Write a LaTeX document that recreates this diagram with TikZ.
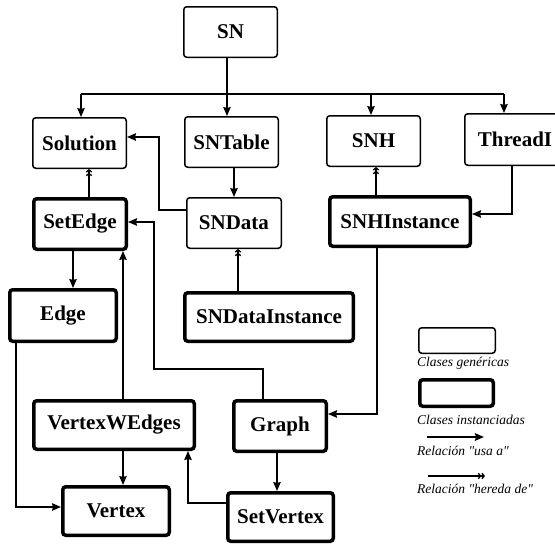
\documentclass[tikz,border=0pt]{standalone}
\usepackage{fontspec}
\setmainfont{Liberation Serif}[Ligatures=TeXOff]
\usetikzlibrary{arrows.meta}
\tikzset{
  base/.style={draw, rounded corners=3pt, inner sep=0pt, align=center,
    font=\fontsize{21}{24}\selectfont\bfseries},
  gen/.style={base, line width=1.5pt},
  inst/.style={base, line width=3.5pt},
  conn/.style={line width=1.5pt},
  usa/.style={conn, -{Stealth[length=9pt,width=7.5pt,inset=1pt]}},
  hereda/.style={conn, -{Straight Barb[length=2.2pt,width=5.5pt,line width=1.3pt] Straight Barb[length=2.2pt,width=5.5pt,line width=1.3pt]}},
  legtext/.style={anchor=west, inner sep=0pt, font=\fontsize{13.5}{15}\selectfont\itshape}
}
\begin{document}
\begin{tikzpicture}[x=1pt, y=-1pt]
\useasboundingbox (0,0) rectangle (555,546);
\clip (0,0) rectangle (555,546);
\fill[white] (0,0) rectangle (555,546);

% generic classes
\node[gen, minimum width=93.5pt, minimum height=50.5pt] (SN) at (230.5,32) {SN};
\node[gen, minimum width=93.5pt, minimum height=50.5pt] (Solution) at (79.5,143) {Solution};
\node[gen, minimum width=93.5pt, minimum height=50.5pt] (SNTable) at (231.5,142) {SNTable};
\node[gen, minimum width=93.5pt, minimum height=50.5pt] (SNH) at (373.5,141) {SNH};
\node[gen, minimum width=100.5pt, minimum height=51.5pt] (ThreadI) at (515,139.5) {ThreadI};
\node[gen, minimum width=94.5pt, minimum height=50.5pt] (SNData) at (234,223) {SNData};

% instantiated classes
\node[inst, minimum width=92.5pt, minimum height=50.5pt] (SetEdge) at (80,224) {SetEdge};
\node[inst, minimum width=140.5pt, minimum height=49.5pt] (SNHInstance) at (400,221.5) {SNHInstance};
\node[inst, minimum width=106.5pt, minimum height=51.5pt] (Edge) at (63,315.5) {Edge};
\node[inst, minimum width=168.5pt, minimum height=48.5pt] (SNDataInstance) at (269,317) {SNDataInstance};
\node[inst, minimum width=160.5pt, minimum height=48.5pt] (VertexWEdges) at (114,425) {VertexWEdges};
\node[inst, minimum width=92.5pt, minimum height=50.5pt] (Graph) at (280,426) {Graph};
\node[inst, minimum width=106.5pt, minimum height=48.5pt] (Vertex) at (116,511) {Vertex};
\node[inst, minimum width=105.5pt, minimum height=48.5pt] (SetVertex) at (280.5,517) {SetVertex};

% legend
\node[gen, minimum width=76.5pt, minimum height=25.5pt] (leg1) at (457,340.5) {};
\node[legtext] (leg1t) at (417,363) {Clases genéricas};
\node[inst, minimum width=73.5pt, minimum height=26.5pt] (leg2) at (456.5,393) {};
\node[legtext] (leg2t) at (417,420) {Clases instanciadas};
\coordinate (la1) at (427,437);
\coordinate (la2) at (484,437);
\draw[usa, line width=2pt] (la1) -- (la2);
\node[legtext] (leg3t) at (417,451) {Relación "usa a"};
\coordinate (lh1) at (428,476);
\coordinate (lh2) at (485,476);
\draw[hereda, line width=2pt] (lh1) -- (lh2);
\node[legtext] (leg4t) at (417,489) {Relación "hereda de"};

% bus from SN
\coordinate (b1) at (81,94);
\coordinate (bus) at (227,94);
\coordinate (b3) at (371,94);
\coordinate (b4) at (504,94);
\draw[conn] (SN.south -| bus) -- (bus);
\draw[conn] (b1) -- (b4);
\draw[usa] (b1) -- (b1 |- Solution.north);
\draw[usa] (bus) -- (bus |- SNTable.north);
\draw[usa] (b3) -- (b3 |- SNH.north);
\draw[usa] (b4) -- (b4 |- ThreadI.north);

% SNTable -> SNData
\draw[usa] (SNTable.south -| SNData.north) -- (SNData.north);

% SNData -> Solution
\coordinate (k1) at (159,210);
\coordinate (k2) at (159,137);
\draw[usa] (SNData.west |- k1) -- (k1) -- (k2) -- (Solution.east |- k2);

% SetEdge inherits Solution
\coordinate (h1) at (89,0);
\draw[hereda] (SetEdge.north -| h1) -- (Solution.south -| h1);

% SetEdge -> Edge
\coordinate (e1) at (73,0);
\draw[usa] (SetEdge.south -| e1) -- (Edge.north -| e1);

% Edge -> Vertex
\coordinate (e2) at (16,507);
\draw[usa] (Edge.south -| e2) -- (e2) -- (Vertex.west |- e2);

% VertexWEdges -> SetEdge, Vertex
\coordinate (v1) at (123,0);
\draw[usa] (VertexWEdges.north -| v1) -- (SetEdge.south -| v1);
\draw[usa] (VertexWEdges.south -| v1) -- (Vertex.north -| v1);

% Graph -> SetEdge
\coordinate (g1) at (263,369);
\coordinate (g2) at (154,369);
\coordinate (g3) at (154,222);
\draw[usa] (Graph.north -| g1) -- (g1) -- (g2) -- (g3) -- (SetEdge.east |- g3);

% SNDataInstance inherits SNData
\coordinate (d1) at (238,0);
\draw[hereda] (SNDataInstance.north -| d1) -- (SNData.south -| d1);

% SNHInstance inherits SNH
\coordinate (s1) at (376,0);
\draw[hereda] (SNHInstance.north -| s1) -- (SNH.south -| s1);

% ThreadI -> SNHInstance
\coordinate (t1) at (512,214);
\draw[usa] (ThreadI.south -| t1) -- (t1) -- (SNHInstance.east |- t1);

% SNHInstance -> Graph
\coordinate (t2) at (377,414);
\draw[usa] (SNHInstance.south -| t2) -- (t2) -- (Graph.east |- t2);

% Graph -> SetVertex
\coordinate (g4) at (277,0);
\draw[usa] (Graph.south -| g4) -- (SetVertex.north -| g4);

% SetVertex -> VertexWEdges
\coordinate (w1) at (188,503);
\draw[usa] (SetVertex.west |- w1) -- (w1) -- (VertexWEdges.south -| w1);
\end{tikzpicture}
\end{document}
